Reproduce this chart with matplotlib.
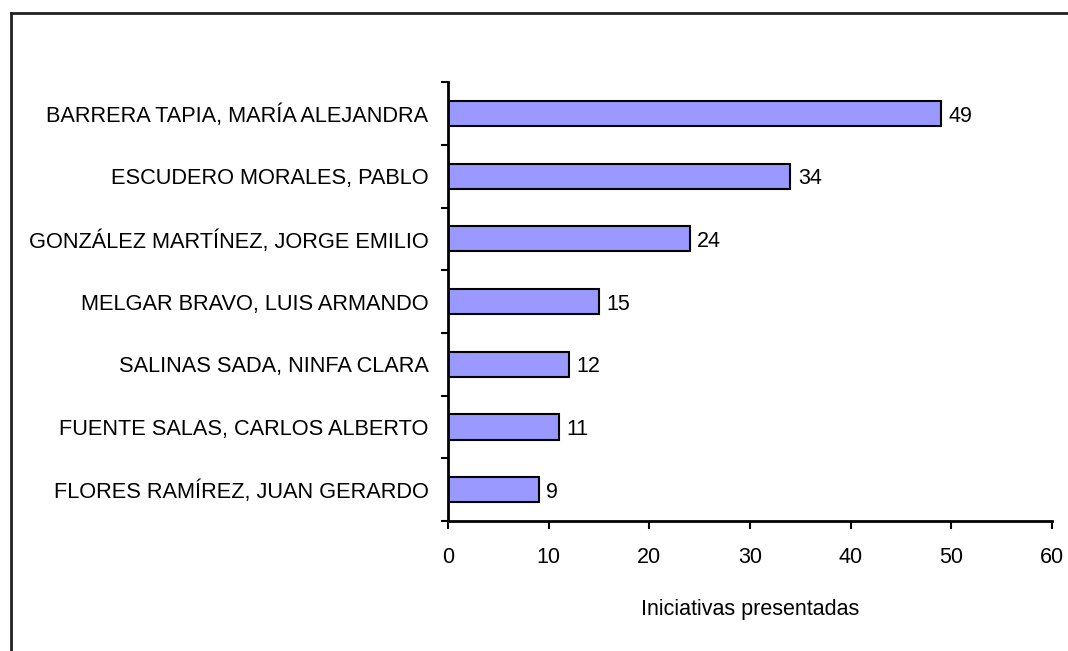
import matplotlib
matplotlib.use("Agg")
import matplotlib.pyplot as plt
from matplotlib.lines import Line2D

nombres = [
    "BARRERA TAPIA, MARÍA ALEJANDRA",
    "ESCUDERO MORALES, PABLO",
    "GONZÁLEZ MARTÍNEZ, JORGE EMILIO",
    "MELGAR BRAVO, LUIS ARMANDO",
    "SALINAS SADA, NINFA CLARA",
    "FUENTE SALAS, CARLOS ALBERTO",
    "FLORES RAMÍREZ, JUAN GERARDO",
]
iniciativas = [49, 34, 24, 15, 12, 11, 9]
xticks = [0, 10, 20, 30, 40, 50, 60]

plt.rcParams['font.family'] = ['Liberation Sans Narrow', 'Liberation Sans', 'DejaVu Sans']

fig = plt.figure(figsize=(10.68, 6.51), dpi=100)
ax = fig.add_axes([0.4195, 0.1997, 0.5655, 0.674])

pos = list(range(len(nombres)))[::-1]
ax.barh(pos, iniciativas, height=0.4, color="#9999ff", edgecolor="black", linewidth=1.5)
for p, v in zip(pos, iniciativas):
    ax.text(v + 0.75, p, str(v), va="center_baseline", ha="left", fontsize=15.5)

ax.set_xlim(0, 60)
ax.set_ylim(-0.5, len(nombres) - 0.5)
ax.set_xticks(xticks)
ax.set_xticklabels([str(t) for t in xticks], fontsize=15.5)
ax.set_yticks(pos)
ax.set_yticklabels(nombres, fontsize=15.7, va="center_baseline")
ax.tick_params(axis="y", length=0, pad=14)
ax.set_yticks([i - 0.5 for i in range(len(nombres) + 1)], minor=True)
ax.tick_params(axis="y", which="minor", length=5, width=1.5, direction="out")
ax.tick_params(axis="x", length=6, width=1.5, direction="out", pad=13)
ax.set_xlabel("Iniciativas presentadas", fontsize=15.5, labelpad=22)

for s in ["top", "right"]:
    ax.spines[s].set_visible(False)
for s in ["left", "bottom"]:
    ax.spines[s].set_linewidth(2)

# borde del cuadro
fig.add_artist(Line2D([0.0105, 0.0105], [0, 0.98], transform=fig.transFigure, color="#222222", lw=2))
fig.add_artist(Line2D([0.0105, 1.0], [0.98, 0.98], transform=fig.transFigure, color="#222222", lw=2))

fig.savefig("out.png", dpi=100)
